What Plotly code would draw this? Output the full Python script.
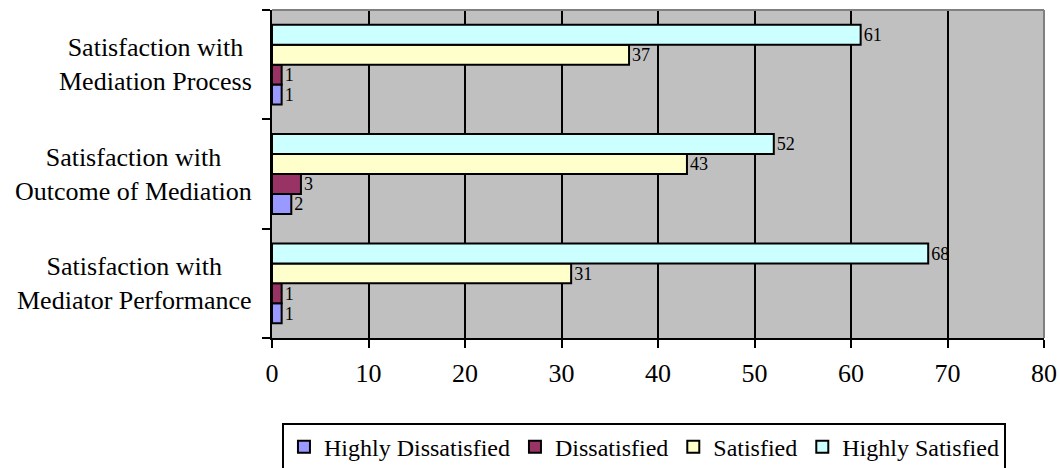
import plotly.graph_objects as go

# Survey categories (bottom to top on the chart)
categories = [
    "Satisfaction with<br>Mediator Performance",
    "Satisfaction with<br>Outcome of Mediation",
    "Satisfaction with<br>Mediation Process",
]

highly_dissatisfied = [1, 2, 1]
dissatisfied = [1, 3, 1]
satisfied = [31, 43, 37]
highly_satisfied = [68, 52, 61]

series_names = ["Highly Dissatisfied", "Dissatisfied", "Satisfied", "Highly Satisfied"]
series_values = [highly_dissatisfied, dissatisfied, satisfied, highly_satisfied]
series_colors = ["#9999FF", "#993366", "#FFFFCC", "#CCFFFF"]

x_ticks = [0, 10, 20, 30, 40, 50, 60, 70, 80]

FONT = "Liberation Serif, Times New Roman, serif"

fig = go.Figure()
for name, vals, color in zip(series_names, series_values, series_colors):
    fig.add_trace(go.Bar(
        y=categories,
        x=vals,
        name=name,
        orientation="h",
        marker=dict(color=color, line=dict(color="black", width=2)),
        text=[str(v) for v in vals],
        textposition="outside",
        textfont=dict(family=FONT, size=20, color="black"),
        cliponaxis=False,
    ))

fig.update_layout(
    width=1060,
    height=468,
    margin=dict(l=272, r=16, t=10, b=130, autoexpand=False),
    paper_bgcolor="white",
    plot_bgcolor="#C0C0C0",
    barmode="group",
    bargap=0.27,
    bargroupgap=0,
    font=dict(family=FONT, size=24, color="black"),
    showlegend=True,
    legend=dict(
        orientation="h",
        xref="container",
        yref="container",
        x=0.266,
        xanchor="left",
        y=0.097,
        yanchor="top",
        bordercolor="black",
        borderwidth=2,
        bgcolor="white",
        font=dict(family=FONT, size=24, color="black"),
        itemwidth=30,
        tracegroupgap=0,
    ),
    xaxis=dict(
        range=[0, 80],
        tickvals=x_ticks,
        ticktext=[str(t) for t in x_ticks],
        showgrid=True,
        gridcolor="black",
        gridwidth=2,
        showline=True,
        linecolor="black",
        linewidth=2,
        ticks="outside",
        ticklen=8,
        tickwidth=2,
        tickcolor="black",
        zeroline=False,
        automargin=False,
        ticklabelstandoff=3,
        tickfont=dict(family=FONT, size=26),
    ),
    yaxis=dict(
        categoryorder="array",
        categoryarray=categories,
        showgrid=False,
        showline=True,
        linecolor="black",
        linewidth=2,
        ticks="outside",
        tickson="boundaries",
        ticklen=8,
        tickwidth=2,
        tickcolor="black",
        zeroline=False,
        automargin=False,
        showticklabels=False,
    ),
)

# Category labels, centred line by line, to the left of the axis
for cat in categories:
    fig.add_annotation(
        x=0, xref="paper", xanchor="right", xshift=-18,
        y=cat, yref="y", yanchor="middle",
        text=cat, align="center", showarrow=False,
        font=dict(family=FONT, size=26, color="black"),
    )

# Gray frame on the top and right edges of the plot area
fig.add_shape(type="line", xref="paper", yref="paper", x0=0, x1=1, y0=1, y1=1,
              line=dict(color="#808080", width=2), layer="above")
fig.add_shape(type="line", xref="paper", yref="paper", x0=1, x1=1, y0=0, y1=1,
              line=dict(color="#808080", width=2), layer="above")

fig.write_html("out.html")
